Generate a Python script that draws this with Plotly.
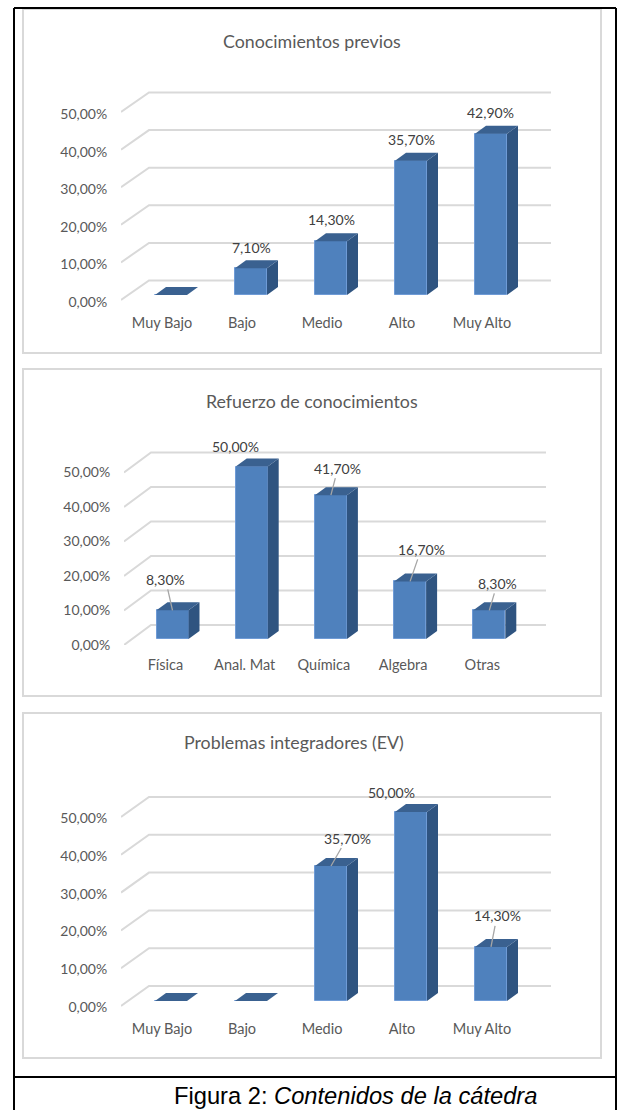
import plotly.graph_objects as go

niveles = ['Muy Bajo', 'Bajo', 'Medio', 'Alto', 'Muy Alto']
materias = ['Física', 'Anal. Mat', 'Química', 'Algebra', 'Otras']

previos = [0, 7.1, 14.3, 35.7, 42.9]
refuerzo = [8.3, 50, 41.7, 16.7, 8.3]
integradores = [0, 0, 35.7, 50, 14.3]

previos_txt = ['', '7,10%', '14,30%', '35,70%', '42,90%']
refuerzo_txt = ['8,30%', '50,00%', '41,70%', '16,70%', '8,30%']
integradores_txt = ['', '', '35,70%', '50,00%', '14,30%']

tick_vals = [0, 10, 20, 30, 40, 50]
tick_txt = ['0,00%', '10,00%', '20,00%', '30,00%', '40,00%', '50,00%']

W, H = 621, 1110
FRONT = '#4f81bd'
SIDE = '#2f5480'
TOP = '#3a6190'
GRID = '#d9d9d9'
FONT = 'Lato'

# one dict per chart, geometry in pixels of the page
paneles = [
    dict(title='Conocimientos previos', title_x=312, title_y=41, box=(23, 9, 601, 353),
         cats=niveles, vals=previos, txt=previos_txt,
         x0=171, step=80, floor=295, ppu=3.76, left=121, back=149, right=551, top=60,
         wall=5, tickdrop=7, back_up=14.5, cat_shift=-9, ticklen=8,
         offs=[(0, 0), (0, -21), (0, -22), (0, -21), (-1, -21)], lead=[0, 0, 0, 0, 0]),
    dict(title='Refuerzo de conocimientos', title_x=312, title_y=401, box=(23, 369, 601, 696),
         cats=materias, vals=refuerzo, txt=refuerzo_txt,
         x0=172.5, step=79.2, floor=639, ppu=3.45, left=124, back=151, right=546, top=420,
         wall=6, tickdrop=6, back_up=14, cat_shift=-7, ticklen=7,
         offs=[(-7, -31), (-16, -20), (7, -27), (11, -32), (8, -27)], lead=[1, 0, 1, 1, 1]),
    dict(title='Problemas integradores (EV)', title_x=294, title_y=742, box=(23, 713, 601, 1058),
         cats=niveles, vals=integradores, txt=integradores_txt,
         x0=171, step=80, floor=1001, ppu=3.78, left=121, back=149, right=551, top=765,
         wall=5, tickdrop=6, back_up=15, cat_shift=-9, ticklen=9,
         offs=[(0, 0), (0, 0), (16, -28), (-20, -20), (6, -31)], lead=[0, 0, 1, 0, 1]),
]

fig = go.Figure()
shapes = []
anots = []

for n, p in enumerate(paneles, start=1):
    suf = '' if n == 1 else str(n)
    xname, yname = f'x{suf}', f'y{suf}'
    step, ppu, floor = p['step'], p['ppu'], p['floor']
    ancho = 32 / step
    dx = 11 / step
    dy = 8 / ppu
    idx = list(range(len(p['cats'])))

    # panel frame
    x1, y1, x2, y2 = p['box']
    shapes.append(dict(type='rect', xref='paper', yref='paper', x0=x1 / W, x1=x2 / W,
                       y0=1 - y1 / H, y1=1 - y2 / H, line=dict(color=GRID, width=2),
                       fillcolor='white', layer='below'))

    # back wall gridlines and the floor-side diagonals
    wall = -p['wall'] / ppu
    up = p['back_up'] / ppu
    xl = (p['left'] - p['x0']) / step
    xb = (p['back'] - p['x0']) / step
    xr = (p['right'] - p['x0']) / step
    for v in tick_vals:
        shapes.append(dict(type='path', xref=xname, yref=yname, layer='below',
                           path=f'M {xl},{v + wall} L {xb},{v + up} L {xr},{v + up}',
                           line=dict(color=GRID, width=2)))

    fig.add_trace(go.Bar(x=idx, y=p['vals'], width=ancho, marker_color=FRONT,
                         marker_line=dict(color='#6f9bd6', width=1),
                         xaxis=xname, yaxis=yname, showlegend=False))

    # top and side faces of each bar
    sx, sy, tx, ty = [], [], [], []
    for i, v in zip(idx, p['vals']):
        a, b = i - ancho / 2, i + ancho / 2
        sx += [b, b + dx, b + dx, b, None]
        sy += [0, dy, v + dy, v, None]
        tx += [a, b, b + dx, a + dx, None]
        ty += [v, v, v + dy, v + dy, None]
    fig.add_trace(go.Scatter(x=sx, y=sy, mode='lines', fill='toself', fillcolor=SIDE,
                             line=dict(width=0, color=SIDE), hoverinfo='skip',
                             xaxis=xname, yaxis=yname, showlegend=False))
    fig.add_trace(go.Scatter(x=tx, y=ty, mode='lines', fill='toself', fillcolor=TOP,
                             line=dict(width=0, color=TOP), hoverinfo='skip',
                             xaxis=xname, yaxis=yname, showlegend=False))

    # value labels, some with a leader line
    for i, v, t, off, lead in zip(idx, p['vals'], p['txt'], p['offs'], p['lead']):
        if not t:
            continue
        if lead:
            anots.append(dict(x=i, y=v, xref=xname, yref=yname, text=t, showarrow=True,
                              ax=off[0], ay=off[1], arrowhead=0, arrowwidth=1.3,
                              arrowcolor='#a6a6a6', font=dict(family=FONT, size=14, color='#404040')))
        else:
            anots.append(dict(x=i, y=v, xref=xname, yref=yname, text=t, showarrow=False,
                              xshift=off[0], yshift=-off[1],
                              font=dict(family=FONT, size=14, color='#404040')))

    anots.append(dict(x=p['title_x'] / W, y=1 - p['title_y'] / H, xref='paper', yref='paper',
                      xanchor='center', yanchor='middle', text=p['title'], showarrow=False,
                      font=dict(family=FONT, size=17.8, color='#595959')))

    bottom = floor + p['tickdrop']
    fig.update_layout({
        f'xaxis{suf}': dict(domain=[p['left'] / W, p['right'] / W], anchor=yname,
                            range=[xl, xr], showgrid=False, zeroline=False, showline=False,
                            tickmode='array', tickvals=[i + p['cat_shift'] / step for i in idx],
                            ticktext=p['cats'], ticks='outside', ticklen=p['ticklen'],
                            tickcolor='rgba(0,0,0,0)',
                            tickfont=dict(family=FONT, size=14.5, color='#595959')),
        f'yaxis{suf}': dict(domain=[1 - bottom / H, 1 - p['top'] / H], anchor=xname,
                            range=[-p['tickdrop'] / ppu, (floor - p['top']) / ppu],
                            showgrid=False, zeroline=False, showline=False,
                            tickmode='array', tickvals=[v - p['tickdrop'] / ppu for v in tick_vals],
                            ticktext=tick_txt, ticks='outside', ticklen=10,
                            tickcolor='rgba(0,0,0,0)',
                            tickfont=dict(family=FONT, size=14, color='#595959')),
    })

# outer black frame of the document table
for xa, ya, xb_, yb in [(14, 8, 616, 8), (14, 8, 14, 1110), (616, 8, 616, 1110), (14, 1077, 616, 1077)]:
    shapes.append(dict(type='line', xref='paper', yref='paper', x0=xa / W, x1=xb_ / W,
                       y0=1 - ya / H, y1=1 - yb / H, line=dict(color='black', width=2)))

anots.append(dict(x=355.5 / W, y=0, xref='paper', yref='paper', showarrow=False,
                  xanchor='center', yanchor='bottom', borderpad=0,
                  text='Figura 2: <i>Contenidos de la cátedra</i>',
                  font=dict(family='Liberation Sans', size=23.7, color='black')))

fig.update_layout(width=W, height=H, margin=dict(l=0, r=0, t=0, b=0, autoexpand=False),
                  paper_bgcolor='white', plot_bgcolor='rgba(0,0,0,0)',
                  shapes=shapes, annotations=anots, bargap=0)

fig.write_html("out.html", config=dict(displayModeBar=False),
               post_script="document.body.style.margin='0';")
